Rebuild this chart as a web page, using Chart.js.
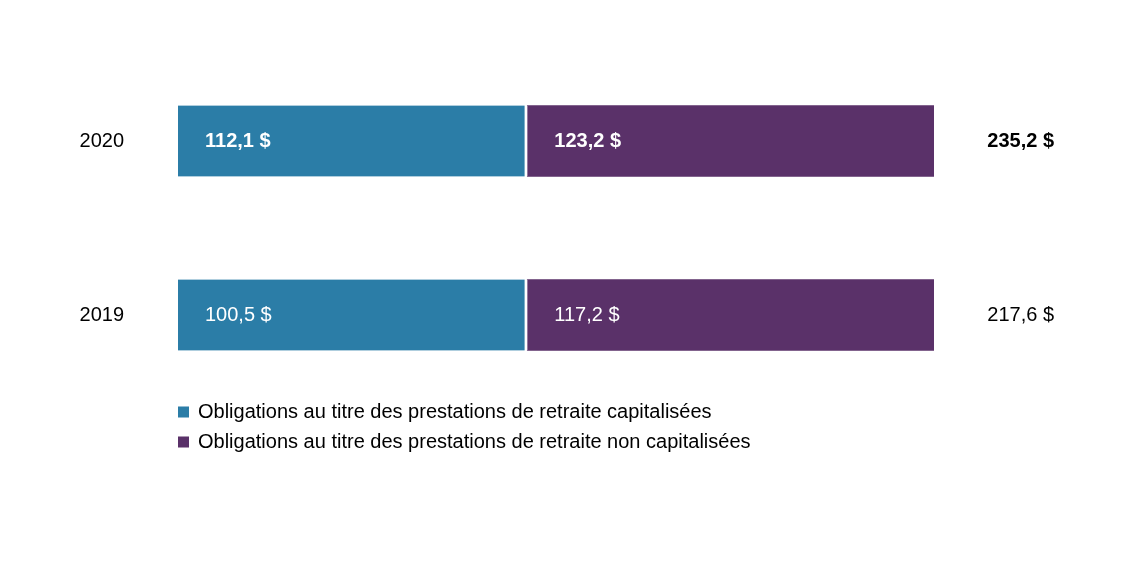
<!DOCTYPE html>
<html lang="fr">
<head>
  <meta charset="UTF-8">
  <title>Obligations au titre des prestations de retraite</title>
  <script src="https://cdn.jsdelivr.net/npm/chart.js"></script>
  <style>
    html, body {
      margin: 0;
      padding: 0;
      background: #ffffff;
    }
  </style>
</head>
<body>
  <canvas id="myChart" width="1140" height="570"></canvas>

  <script>
    const years = ['2020', '2019'];
    const funded = [112.1, 100.5];
    const unfunded = [123.2, 117.2];
    const totals = [235.2, 217.6];
    // les deux barres ont la même longueur dans le graphique d'origine (part, en %)
    const fundedShare = [46.2, 46.2];
    const unfundedShare = [53.8, 53.8];
    const seriesNames = [
      'Obligations au titre des prestations de retraite capitalisées',
      'Obligations au titre des prestations de retraite non capitalisées'
    ];
    const boldRows = [true, false];

    const FONT = "'Liberation Sans Narrow', 'Arial Narrow', 'Liberation Sans', sans-serif";
    const fmt = v => v.toFixed(1).replace('.', ',') + ' $';

    const valueLabels = {
      id: 'valueLabels',
      afterDatasetsDraw(chart) {
        const ctx = chart.ctx;
        const sets = [funded, unfunded];
        ctx.save();
        ctx.textBaseline = 'middle';
        chart.data.datasets.forEach((ds, i) => {
          const meta = chart.getDatasetMeta(i);
          meta.data.forEach((bar, j) => {
            ctx.fillStyle = '#ffffff';
            ctx.textAlign = 'left';
            ctx.font = (boldRows[j] ? 'bold ' : '') + '20px ' + FONT;
            ctx.fillText(fmt(sets[i][j]), Math.min(bar.base, bar.x) + 27, bar.y);
          });
        });
        // totaux à droite
        const meta0 = chart.getDatasetMeta(0);
        meta0.data.forEach((bar, j) => {
          ctx.fillStyle = '#000000';
          ctx.textAlign = 'right';
          ctx.font = (boldRows[j] ? 'bold ' : '') + '20px ' + FONT;
          ctx.fillText(fmt(totals[j]), chart.chartArea.right + 120, bar.y);
        });
        ctx.restore();
      }
    };

    const customLegend = {
      id: 'customLegend',
      afterDraw(chart) {
        const ctx = chart.ctx;
        const left = chart.chartArea.left;
        const top = chart.chartArea.bottom + 10;
        ctx.save();
        ctx.font = '20px ' + FONT;
        ctx.textBaseline = 'middle';
        ctx.textAlign = 'left';
        chart.data.datasets.forEach((ds, i) => {
          const y = top + i * 30;
          ctx.fillStyle = ds.backgroundColor;
          ctx.fillRect(left, y - 5.5, 11, 11);
          ctx.fillStyle = '#000000';
          ctx.fillText(ds.label, left + 20, y);
        });
        ctx.restore();
      }
    };

    const ctx = document.getElementById('myChart').getContext('2d');
    const myChart = new Chart(ctx, {
      type: 'bar',
      data: {
        labels: years,
        datasets: [
          {
            label: seriesNames[0],
            data: fundedShare,
            backgroundColor: '#2b7da7',
            borderColor: '#ffffff',
            borderWidth: { top: 0, bottom: 0, left: 0, right: 3 },
            borderSkipped: false,
            barThickness: 71
          },
          {
            label: seriesNames[1],
            data: unfundedShare,
            backgroundColor: '#5a3169',
            borderWidth: 0,
            barThickness: 71
          }
        ]
      },
      plugins: [valueLabels, customLegend],
      options: {
        indexAxis: 'y',
        responsive: false,
        animation: false,
        layout: {
          padding: { left: 0, right: 206, top: 54, bottom: 168 }
        },
        plugins: {
          legend: { display: false },
          tooltip: { enabled: false }
        },
        scales: {
          x: {
            stacked: true,
            min: 0,
            max: 100,
            display: false
          },
          y: {
            stacked: true,
            grid: { display: false, drawTicks: false },
            border: { display: false },
            ticks: {
              color: '#000000',
              padding: 54,
              font: { family: FONT, size: 20 }
            },
            afterFit(scale) {
              scale.width = 178;
              scale.paddingTop = 0;
              scale.paddingBottom = 0;
            }
          }
        }
      }
    });
  </script>
</body>
</html>
